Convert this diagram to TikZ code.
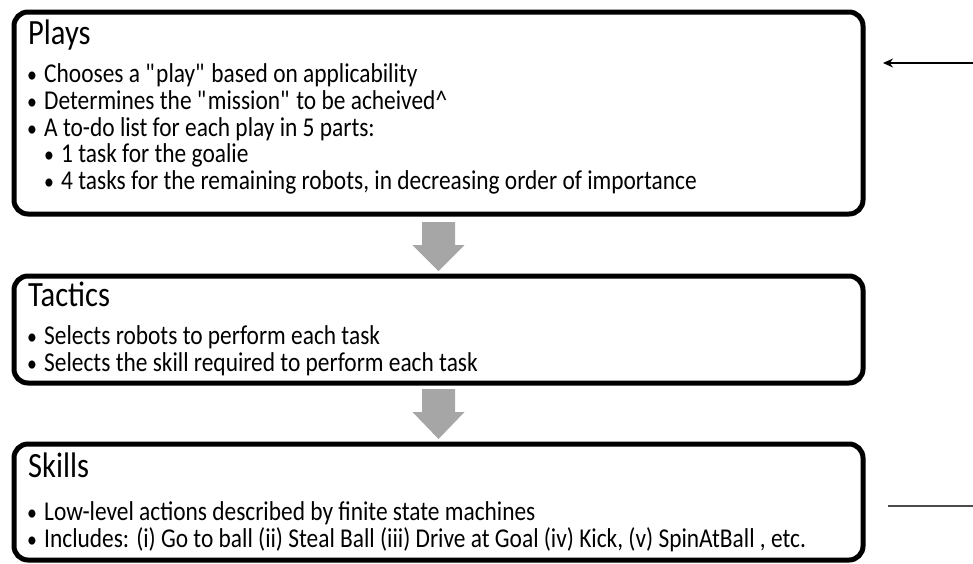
\documentclass[tikz,border=0pt]{standalone}
\usepackage{fontspec}
\setmainfont{Carlito}
\newfontfamily\narrowfont[FakeStretch=0.86]{Carlito}
\usetikzlibrary{calc,arrows.meta}
\tikzset{
  stagebox/.style={draw=black, line width=5pt, rounded corners=14pt, rectangle, anchor=north west, inner sep=0pt, outer sep=0pt},
  ttl/.style={anchor=base west, inner sep=0pt, font=\narrowfont\fontsize{35.5}{40}\selectfont},
  btxt/.style={anchor=base west, inner sep=0pt, font=\narrowfont\fontsize{27.2}{30}\selectfont},
  bdot/.style={anchor=base, inner sep=0pt, font=\narrowfont\fontsize{23}{27}\selectfont},
  flowarrow/.style={fill=black!35, draw=none},
}
\begin{document}
\begin{tikzpicture}[x=1pt,y=-1pt]
\useasboundingbox (0,0) rectangle (973,563);
% boxes
\node[stagebox, minimum width=849pt, minimum height=202pt] (plays) at (14,12) {};
\node[stagebox, minimum width=849pt, minimum height=107pt] (tactics) at (14,276) {};
\node[stagebox, minimum width=849pt, minimum height=116pt] (skills) at (14,444) {};
% Plays text
\node[ttl] (tp) at (28,44) {Plays};
\node[bdot] (b11) at (32,82) {•};
\node[btxt] (p1) at (44,82) {Chooses a \textquotedbl play\textquotedbl{} based on applicability};
\node[bdot] (b12) at (32,109) {•};
\node[btxt] (p2) at (44,109) {Determines the \textquotedbl mission\textquotedbl{} to be acheived\^{}};
\node[bdot] (b13) at (32,136) {•};
\node[btxt] (p3) at (44,136) {A to-do list for each play in 5 parts:};
\node[bdot] (b14) at (49,162) {•};
\node[btxt] (p4) at (61,162) {1 task for the goalie};
\node[bdot] (b15) at (49,189) {•};
\node[btxt] (p5) at (61,189) {4 tasks for the remaining robots, in decreasing order of importance};
% Tactics text
\node[ttl] (tt) at (28,306) {Tactics};
\node[bdot] (b21) at (32,344) {•};
\node[btxt] (q1) at (44,344) {Selects robots to perform each task};
\node[bdot] (b22) at (32,371) {•};
\node[btxt] (q2) at (44,371) {Selects the skill required to perform each task};
% Skills text
\node[ttl] (ts) at (28,477) {Skills};
\node[bdot] (b31) at (32,520) {•};
\node[btxt] (r1) at (44,520) {Low-level actions described by finite state machines};
\node[bdot] (b32) at (32,547) {•};
\node[btxt] (r2) at (44,547) {Includes: (i) Go to ball (ii) Steal Ball (iii) Drive at Goal (iv) Kick, (v) SpinAtBall , etc.};
% gray flow arrows
\fill[flowarrow] ($(plays.south)+(-16.5,8)$) -- ($(plays.south)+(16.5,8)$) -- ($(plays.south)+(16.5,31)$)
  -- ($(plays.south)+(26,31)$) -- ($(tactics.north)+(0,-5)$) -- ($(plays.south)+(-26,31)$)
  -- ($(plays.south)+(-16.5,31)$) -- cycle;
\fill[flowarrow] ($(tactics.south)+(-16.5,6)$) -- ($(tactics.south)+(16.5,6)$) -- ($(tactics.south)+(16.5,29)$)
  -- ($(tactics.south)+(26,29)$) -- ($(skills.north)+(0,-5)$) -- ($(tactics.south)+(-26,29)$)
  -- ($(tactics.south)+(-16.5,29)$) -- cycle;
% side connectors
\coordinate (inS) at (973,63);
\coordinate (inE) at (883,63);
\draw[line width=1.3pt, -{Stealth[length=10pt,width=9pt]}] (inS) -- (inE);
\coordinate (outS) at (888,506);
\coordinate (outE) at (973,506);
\draw[line width=1.6pt, black!70] (outS) -- (outE);
\end{tikzpicture}
\end{document}
